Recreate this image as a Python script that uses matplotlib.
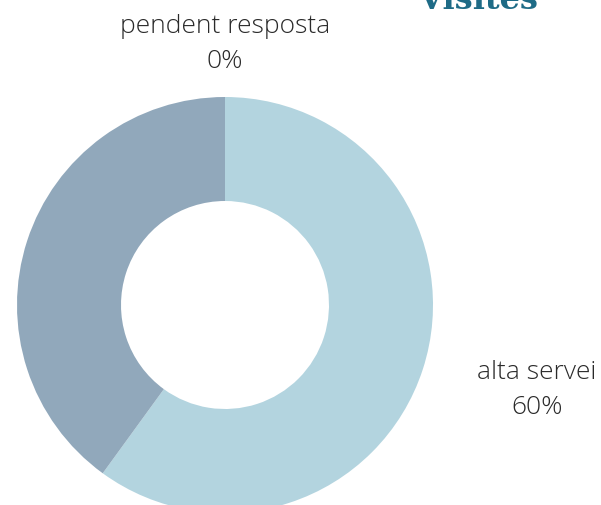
import matplotlib
matplotlib.use("Agg")
import matplotlib.pyplot as plt

categories = ["pendent resposta", "alta servei", ""]
values = [0, 60, 40]
colors = ["#b3d4df", "#b3d4df", "#91a8bb"]
title = "Visites"

W, H = 601, 506
fig = plt.figure(figsize=(W / 100, H / 100), dpi=100)
ax = fig.add_axes([0, 0, 1, 1])

# donut: centre and radius in pixel space (y upward)
cx, cy, r = 225, H - 306, 208
ax.pie(values, colors=colors, startangle=90, counterclock=False,
       center=(cx, cy), radius=r, frame=True,
       wedgeprops=dict(width=r * 0.5, linewidth=0))
ax.set_xlim(0, W)
ax.set_ylim(0, H)
ax.set_aspect("equal")
ax.axis("off")

txt = dict(ha="center", va="center", fontsize=19, color="#2a2a2a",
           family=["Open Sans", "DejaVu Sans"], fontweight="light",
           linespacing=1.52)

# label placement (pixel coords, y from top)
label_pos = {"pendent resposta": (225, 44), "alta servei": (537, 390)}
for cat, val in zip(categories, values):
    if cat in label_pos:
        x, y = label_pos[cat]
        ax.text(x, H - y, f"{cat}\n{val}%", **txt)

# title, mostly cut off by the top edge
ax.text(478, H - 9, title, ha="center", va="baseline", fontsize=23,
        fontweight="bold", color="#1e6b86", family="DejaVu Serif")

fig.savefig("out.png", dpi=100)
